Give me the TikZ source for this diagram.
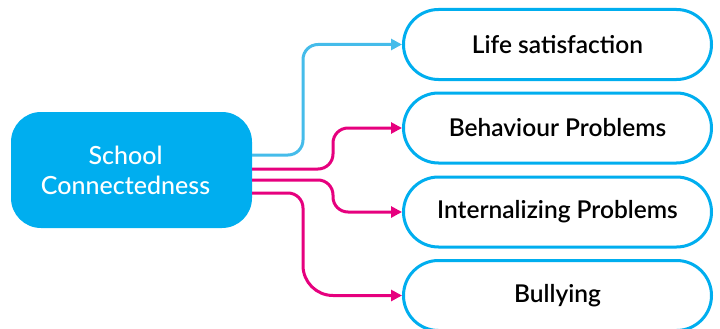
\documentclass[tikz,border=0pt]{standalone}
\usepackage{fontspec}
\setmainfont{Lato}
\IfFontExistsTF{Lato Semibold}{\newfontfamily\outfont{Lato Semibold}}{\newfontfamily\outfont{Lato}[UprightFont=*-Bold]}
\IfFontExistsTF{Lato Medium}{\newfontfamily\srcfont{Lato Medium}}{\newfontfamily\srcfont{Lato}}
\usetikzlibrary{arrows.meta}
\definecolor{cyanbox}{HTML}{00AEEF}
\definecolor{lightarrow}{HTML}{45BCEA}
\definecolor{magarrow}{HTML}{E6007E}
\begin{document}
\begin{tikzpicture}[x=1pt,y=1pt,
  srcbox/.style={draw=none, fill=cyanbox, rounded corners=30pt, minimum width=241pt, minimum height=116pt, inner sep=0pt},
  srctext/.style={text=white, align=center, font=\srcfont\fontsize{25}{30}\selectfont, inner sep=0pt},
  outbox/.style={draw=cyanbox, line width=3pt, fill=white, rounded corners=35pt, minimum width=308pt, minimum height=70pt, font=\outfont\fontsize{24.5}{28}\selectfont, inner sep=0pt},
  conn/.style={line width=3pt, -{Triangle[length=11pt,width=11pt]}},
  bluec/.style={conn, draw=lightarrow},
  magc/.style={conn, draw=magarrow}
]
\useasboundingbox (0,0) rectangle (720,-329);
\node[srcbox] (sc) at (131.5,-170) {};
\node[srctext] (sct) at (125.5,-170) {School\\Connectedness};
\node[outbox] (ls) at (557.5,-44.5) {Life satisfaction};
\node[outbox] (bp) at (557.5,-128) {Behaviour Problems};
\node[outbox] (ip) at (557.5,-212) {Internalizing Problems};
\node[outbox] (bu) at (557.5,-295.5) {Bullying};
\coordinate (c1) at ([yshift=15pt]sc.east);
\coordinate (c2) at ([yshift=1pt]sc.east);
\coordinate (c3) at ([yshift=-10pt]sc.east);
\coordinate (c4) at ([yshift=-23pt]sc.east);
\draw[bluec, rounded corners=15pt] (c1) -- (c1 -| 303,0) -- (ls.west -| 303,0) -- (ls.west);
\draw[magc, rounded corners=15pt] (c2) -- (c2 -| 333,0) -- (bp.west -| 333,0) -- (bp.west);
\draw[magc, rounded corners=15pt] (c3) -- (c3 -| 333,0) -- (ip.west -| 333,0) -- (ip.west);
\draw[magc] (c4) [rounded corners=15pt] -- (c4 -| 303,0) [rounded corners=30pt] -- (bu.west -| 303,0) -- (bu.west);
\end{tikzpicture}
\end{document}
